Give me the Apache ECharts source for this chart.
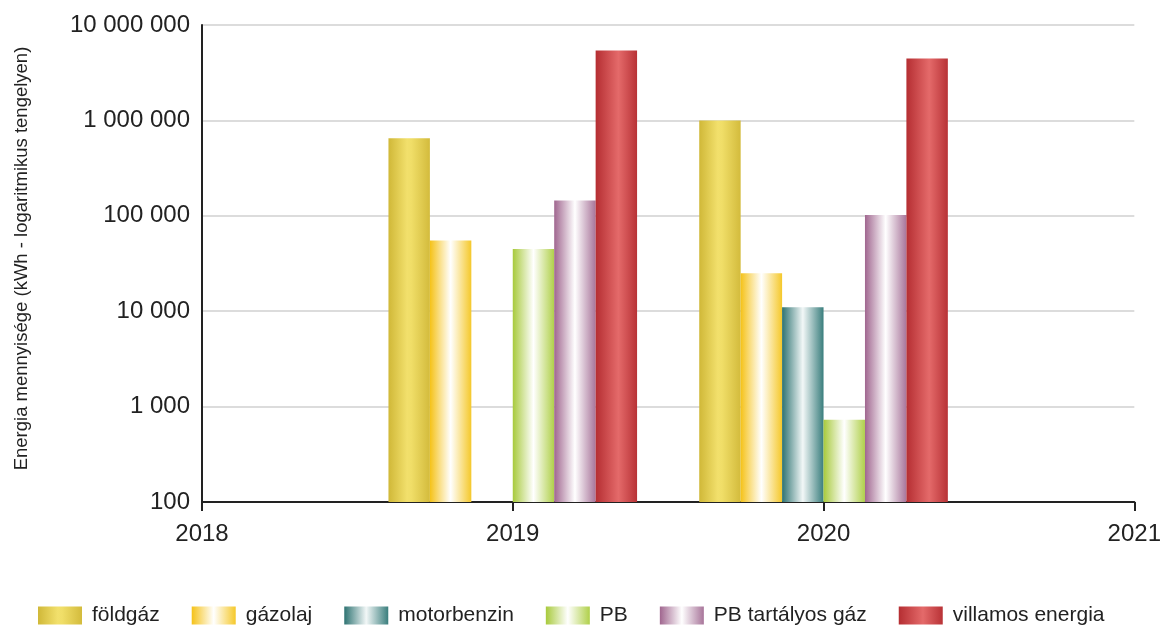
<!DOCTYPE html>
<html>
<head>
<meta charset="utf-8">
<script src="https://cdn.jsdelivr.net/npm/echarts@6/dist/echarts.min.js"></script>
<style>html,body{margin:0;padding:0;background:#fff}#c{width:1164px;height:626px}</style>
</head>
<body>
<div id="c"></div>
<script>
const years = ['2018', '2019', '2020', '2021'];
const seriesNames = ['földgáz', 'gázolaj', 'motorbenzin', 'PB', 'PB tartályos gáz', 'villamos energia'];
const foldgaz = [null, 650000, 1000000, null];
const gazolaj = [null, 55000, 25000, null];
const motorbenzin = [null, null, 11000, null];
const pb = [null, 45000, 730, null];
const pbTartalyos = [null, 145000, 102000, null];
const villamos = [null, 5400000, 4450000, null];
const yTicks = [100, 1000, 10000, 100000, 1000000, 10000000];
const yAxisTitle = 'Energia mennyisége (kWh - logaritmikus tengelyen)';

const values = [foldgaz, gazolaj, motorbenzin, pb, pbTartalyos, villamos];
function grad(stops) {
  return new echarts.graphic.LinearGradient(0, 0, 1, 0, stops.map(s => ({offset: s[0], color: s[1]})));
}
const gradients = [
  grad([[0, '#d0b838'], [0.45, '#f2e06c'], [0.55, '#f0de68'], [1, '#d3bb3c']]),
  grad([[0, '#f5c218'], [0.5, '#ffffff'], [1, '#f5c82a']]),
  grad([[0, '#2e7372'], [0.5, '#f2f7f7'], [1, '#3a7e7d']]),
  grad([[0, '#a8ca3c'], [0.5, '#ffffff'], [1, '#b0d04a']]),
  grad([[0, '#a0668f'], [0.5, '#ffffff'], [1, '#a8759a']]),
  grad([[0, '#b52e32'], [0.55, '#e46a6a'], [1, '#b83236']])
];
const font = "'Liberation Sans', Arial, sans-serif";
function fmt(v) { return String(Math.round(v)).replace(/\B(?=(\d{3})+(?!\d))/g, ' '); }

const chart = echarts.init(document.getElementById('c'), null, {renderer: 'canvas'});
chart.setOption({
  animation: false,
  backgroundColor: '#fff',
  textStyle: {fontFamily: font},
  grid: {left: 202, right: 29, top: 25, bottom: 124, containLabel: false},
  legend: {
    left: 33, top: 600,
    itemWidth: 44, itemHeight: 18, itemGap: 32,
    icon: 'rect',
    textStyle: {fontFamily: font, fontSize: 21, color: '#222', padding: [0, 0, 0, 5]},
    data: seriesNames
  },
  xAxis: {
    type: 'category',
    data: years,
    boundaryGap: false,
    axisLine: {lineStyle: {color: '#222', width: 2}},
    axisTick: {show: true, length: 9, lineStyle: {color: '#222', width: 2}, alignWithLabel: true},
    axisLabel: {fontFamily: font, fontSize: 24, color: '#222', margin: 20},
    splitLine: {show: false}
  },
  yAxis: {
    type: 'log',
    logBase: 10,
    min: yTicks[0],
    max: yTicks[yTicks.length - 1],
    name: yAxisTitle,
    nameLocation: 'middle',
    nameRotate: 90,
    nameGap: 171,
    nameTextStyle: {fontFamily: font, fontSize: 18.5, color: '#222', padding: [0, 0, 0, 10]},
    axisLine: {show: true, lineStyle: {color: '#222', width: 2}},
    axisTick: {show: false},
    axisLabel: {fontFamily: font, fontSize: 24, color: '#222', margin: 12, formatter: fmt},
    splitLine: {show: true, lineStyle: {color: '#dcdcdc', width: 2}}
  },
  series: seriesNames.map((n, i) => ({
    name: n,
    type: 'bar',
    data: values[i],
    barGap: '0%',
    barCategoryGap: '20%',
    clip: true,
    itemStyle: {color: gradients[i]}
  }))
});
</script>
</body>
</html>
